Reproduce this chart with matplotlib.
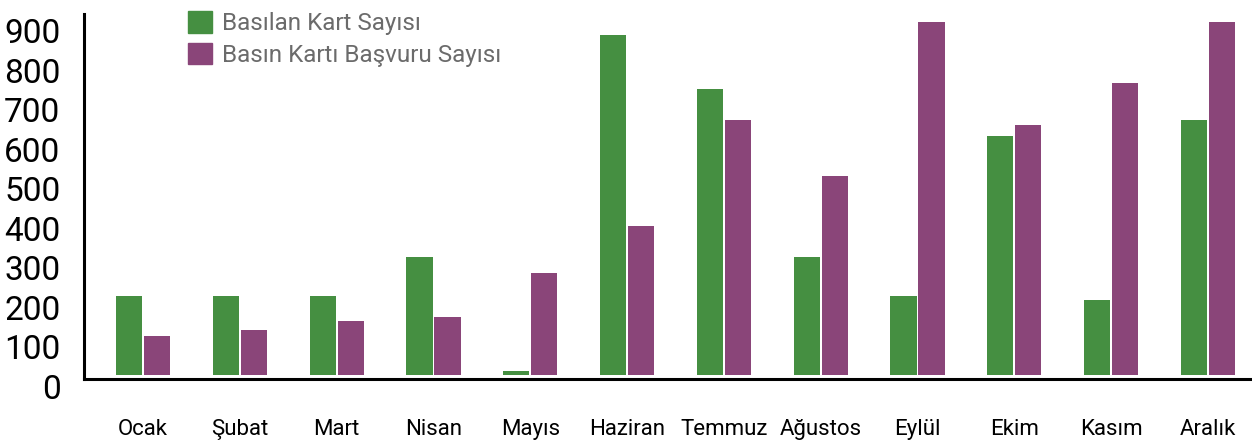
import matplotlib
matplotlib.use("Agg")
import matplotlib.pyplot as plt
import matplotlib.transforms as mtransforms
from matplotlib.patches import Patch
import numpy as np

plt.rcParams['font.family'] = ['Roboto', 'DejaVu Sans']

months = ["Ocak", "Şubat", "Mart", "Nisan", "Mayıs", "Haziran",
          "Temmuz", "Ağustos", "Eylül", "Ekim", "Kasım", "Aralık"]
basilan = [200, 200, 200, 298, 10, 860, 725, 298, 200, 604, 190, 645]
basvuru = [100, 114, 137, 147, 258, 378, 646, 505, 894, 633, 739, 894]
yticks = [0, 100, 200, 300, 400, 500, 600, 700, 800, 900]

green = "#458f41"
purple = "#8a4579"

fig = plt.figure(figsize=(12.52, 4.46), dpi=100)
ax = fig.add_axes([84 / 1252, 67 / 446, 1168 / 1252, 365 / 446])

x = np.arange(len(months))
w = 0.27
ax.bar(x - w / 2 - 0.01, basilan, w, color=green)
ax.bar(x + w / 2 + 0.01, basvuru, w, color=purple)

ax.set_xlim(-0.61, 11.455)
ax.set_ylim(-10, 914)

for s in ["top", "right"]:
    ax.spines[s].set_visible(False)
ax.spines["left"].set_linewidth(2.2)
ax.spines["bottom"].set_linewidth(2.2)

ax.set_yticks(yticks)
ax.set_yticklabels([str(v) for v in yticks], fontsize=24)
ax.tick_params(axis="y", length=0, pad=17)
# labels sit a little below their values in the original
shift = mtransforms.ScaledTranslation(0, -11 / 100, fig.dpi_scale_trans)
for lab in ax.get_yticklabels():
    lab.set_transform(lab.get_transform() + shift)

ax.set_xticks(x)
ax.set_xticklabels(months, fontsize=16)
ax.tick_params(axis="x", length=0, pad=29)

handles = [Patch(color=green, label="Basılan Kart Sayısı"),
           Patch(color=purple, label="Basın Kartı Başvuru Sayısı")]
fig.legend(handles=handles, loc="upper left", bbox_to_anchor=(176 / 1252, 1 + 1 / 446),
           frameon=False, fontsize=17.5, labelcolor="#6b6b6b", borderpad=0,
           handlelength=1.0, handleheight=1.0, handletextpad=0.4, labelspacing=0.3)

fig.savefig("out.png", dpi=100)
